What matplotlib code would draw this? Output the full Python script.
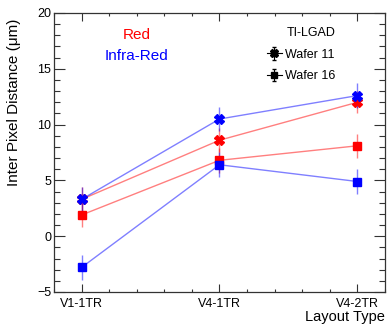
import matplotlib
matplotlib.use("Agg")
import matplotlib.pyplot as plt
from matplotlib.ticker import MultipleLocator

plt.rcParams['font.family'] = ['Liberation Sans', 'DejaVu Sans']

layouts = ['V1-1TR', 'V4-1TR', 'V4-2TR']

# Red laser
red_w11 = [3.3, 8.6, 12.0]
red_w11_err = [1.1, 1.1, 1.0]
red_w16 = [1.9, 6.8, 8.1]
red_w16_err = [1.1, 1.1, 1.1]

# Infra-red laser
ir_w11 = [3.3, 10.5, 12.6]
ir_w11_err = [1.1, 1.1, 1.1]
ir_w16 = [-2.8, 6.4, 4.9]
ir_w16_err = [1.1, 1.1, 1.1]

x = list(range(len(layouts)))

fig = plt.figure(figsize=(3.87, 3.24), dpi=100)
ax = fig.add_axes([0.1395, 0.0988, 0.8553, 0.8611])

def draw(vals, errs, color, marker, ms):
    ax.plot(x, vals, color=color, alpha=0.5, lw=1.0, zorder=2)
    ax.errorbar(x, vals, yerr=errs, fmt='none', ecolor=color, alpha=0.5,
                elinewidth=1.0, capsize=0, zorder=2)
    ax.plot(x, vals, ls='none', marker=marker, color=color, ms=ms,
            mec=color, zorder=3)

draw(red_w16, red_w16_err, '#ff0000', 's', 5.5)
draw(ir_w16, ir_w16_err, '#0000ff', 's', 5.5)
draw(red_w11, red_w11_err, '#ff0000', 'X', 6.5)
draw(ir_w11, ir_w11_err, '#0000ff', 'X', 6.5)

ax.set_xlim(-0.2, 2.2)
ax.set_ylim(-5, 20)
ax.set_xticks(x)
ax.set_xticklabels(layouts)
ax.xaxis.set_minor_locator(MultipleLocator(0.2))
ax.yaxis.set_major_locator(MultipleLocator(5))
ax.yaxis.set_minor_locator(MultipleLocator(1))
ax.tick_params(axis='both', which='both', direction='in', top=True, right=True,
               labelsize=9, width=0.8, colors='#333333', labelcolor='black')
ax.tick_params(axis='y', which='major', length=8, pad=2)
ax.tick_params(axis='y', which='minor', length=4)
ax.tick_params(axis='x', which='major', length=6, pad=4)
ax.tick_params(axis='x', which='minor', length=2.5)
for s in ax.spines.values():
    s.set_linewidth(0.9)
    s.set_color('#333333')

ax.set_ylabel('Inter Pixel Distance (\u03bcm)', fontsize=11)
ax.yaxis.set_label_coords(-0.1, 0.68)
ax.set_xlabel('Layout Type', fontsize=10.5, labelpad=0)
ax.xaxis.set_label_coords(1.0, -0.065)
ax.xaxis.label.set_horizontalalignment('right')

ax.text(0.25, 0.92, 'Red', color='#ff0000', fontsize=11, ha='center', va='center',
        transform=ax.transAxes)
ax.text(0.25, 0.845, 'Infra-Red', color='#0000ff', fontsize=11, ha='center', va='center',
        transform=ax.transAxes)

# legend handles (drawn outside the visible range)
h11 = ax.errorbar([-10], [0], yerr=[1], fmt='-X', color='black', ms=6,
                  lw=0.8, elinewidth=0.8, capsize=1.5)
h16 = ax.errorbar([-10], [0], yerr=[1], fmt='-s', color='black', ms=4,
                  lw=0.8, elinewidth=0.8, capsize=1.5)
leg = ax.legend([h11, h16], ['Wafer 11', 'Wafer 16'], title='TI-LGAD',
                loc='upper right', bbox_to_anchor=(0.885, 0.99), frameon=False,
                fontsize=9, title_fontsize=9, handlelength=1.2, handletextpad=0.3,
                labelspacing=0.75)
leg._legend_box.align = 'right'
leg._legend_box.sep = 7

fig.savefig('out.png', dpi=100)
